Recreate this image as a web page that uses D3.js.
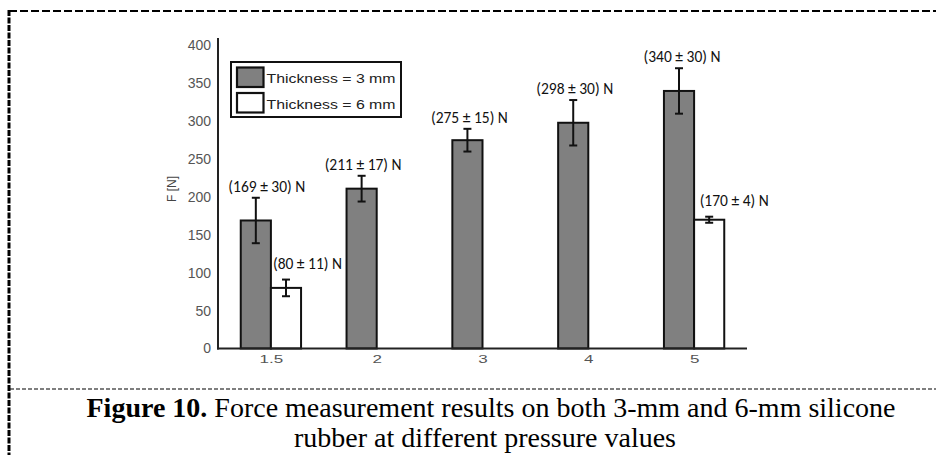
<!DOCTYPE html>
<html>
<head>
<meta charset="utf-8">
<script src="https://cdn.jsdelivr.net/npm/d3@7"></script>
<style>
  html, body { margin: 0; padding: 0; background: #fff; }
  svg { display: block; }
</style>
</head>
<body>
<svg id="chart" width="936" height="455"></svg>
<script>
// ---- data ----
const categories = ["1.5", "2", "3", "4", "5"];
const thick3 = [169, 211, 275, 298, 340];
const err3 = [30, 17, 15, 30, 30];
const thick6 = [80, null, null, null, 170];
const err6 = [11, null, null, null, 4];
const yTicks = [0, 50, 100, 150, 200, 250, 300, 350, 400];
const seriesNames = ["Thickness = 3 mm", "Thickness = 6 mm"];
const captionBold = "Figure 10.";
const captionLine1 = " Force measurement results on both 3-mm and 6-mm silicone";
const captionLine2 = "rubber at different pressure values";
// label nudges (layout only)
const labelNudge3 = [11, 1.5, 2, 1.5, 3];
const labelNudge6 = [21.5, 0, 0, 0, 25];

const svg = d3.select("#chart");

// ---- frame ----
svg.append("line").attr("x1", 9).attr("x2", 936).attr("y1", 11).attr("y2", 11)
  .attr("stroke", "#000").attr("stroke-width", 2).attr("stroke-dasharray", "8,3");
svg.append("line").attr("x1", 9).attr("x2", 9).attr("y1", 10).attr("y2", 455)
  .attr("stroke", "#000").attr("stroke-width", 3).attr("stroke-dasharray", "6,1.5");
svg.append("line").attr("x1", 10).attr("x2", 936).attr("y1", 389).attr("y2", 389)
  .attr("stroke", "#000").attr("stroke-width", 1.2).attr("stroke-dasharray", "4,2");

// ---- scales ----
const x = d3.scalePoint().domain(categories).range([218, 747]).padding(0.5);
const y = d3.scaleLinear().domain([0, 400]).range([348.5, 45.5]);
const bw = x.step() * 0.285;

const g = svg.append("g");

// axes
const yAxis = d3.axisLeft(y).tickValues(yTicks).tickSize(0).tickPadding(7);
const yg = g.append("g").attr("transform", "translate(218,0)").call(yAxis);
yg.select(".domain").remove();
yg.selectAll("text").attr("font-family", "Liberation Sans, Arial, sans-serif")
  .attr("font-size", 14).attr("fill", "#555");

const xAxis = d3.axisBottom(x).tickSize(0).tickPadding(0);
const xg = g.append("g").attr("transform", "translate(0,348.5)").call(xAxis);
xg.select(".domain").remove();
xg.selectAll("text")
  .attr("font-family", "Liberation Sans, Arial, sans-serif")
  .attr("font-size", 17).attr("fill", "#555")
  .attr("dy", 0)
  .attr("transform", function() { return "translate(0,14) scale(1,0.6)"; });

// bars 3 mm
g.selectAll("rect.b3").data(thick3).join("rect").attr("class", "b3")
  .attr("x", (d, i) => x(categories[i]) - bw)
  .attr("y", d => y(d))
  .attr("width", bw)
  .attr("height", d => y(0) - y(d))
  .attr("fill", "#808080").attr("stroke", "#111").attr("stroke-width", 2);

// bars 6 mm
const d6 = thick6.map((v, i) => ({v, e: err6[i], c: categories[i], i})).filter(d => d.v != null);
g.selectAll("rect.b6").data(d6).join("rect").attr("class", "b6")
  .attr("x", d => x(d.c))
  .attr("y", d => y(d.v))
  .attr("width", bw)
  .attr("height", d => y(0) - y(d.v))
  .attr("fill", "#fff").attr("stroke", "#111").attr("stroke-width", 2);

// axis lines
g.append("line").attr("x1", 218).attr("x2", 218).attr("y1", 38).attr("y2", 349.5)
  .attr("stroke", "#222").attr("stroke-width", 2);
g.append("line").attr("x1", 217).attr("x2", 747).attr("y1", 348.5).attr("y2", 348.5)
  .attr("stroke", "#222").attr("stroke-width", 2);

// error bars
const d3s = thick3.map((v, i) => ({v, e: err3[i], c: categories[i], i, cx: x(categories[i]) - bw / 2}));
const d6s = d6.map(d => ({...d, cx: x(d.c) + bw / 2}));
function errorBars(data, cls) {
  const eg = g.selectAll("g." + cls).data(data).join("g").attr("class", cls)
    .attr("stroke", "#111").attr("stroke-width", 2);
  eg.append("line").attr("x1", d => d.cx).attr("x2", d => d.cx)
    .attr("y1", d => y(d.v + d.e)).attr("y2", d => y(d.v - d.e));
  eg.append("line").attr("x1", d => d.cx - 4).attr("x2", d => d.cx + 4)
    .attr("y1", d => y(d.v + d.e)).attr("y2", d => y(d.v + d.e));
  eg.append("line").attr("x1", d => d.cx - 4).attr("x2", d => d.cx + 4)
    .attr("y1", d => y(d.v - d.e)).attr("y2", d => y(d.v - d.e));
}
errorBars(d3s, "e3");
errorBars(d6s, "e6");

// value labels
function valueLabels(data, cls, nudge, dy) {
  g.selectAll("text." + cls).data(data).join("text").attr("class", cls)
    .attr("x", d => d.cx + nudge[d.i])
    .attr("y", d => y(d.v + d.e) - dy)
    .attr("text-anchor", "middle")
    .attr("font-family", "Carlito, Lato, 'Open Sans', sans-serif")
    .attr("font-size", 15.5).attr("fill", "#111")
    .text(d => `(${d.v} ± ${d.e}) N`);
}
valueLabels(d3s, "l3", labelNudge3, 6);
valueLabels(d6s, "l6", labelNudge6, 11);

// y label
g.append("text").attr("transform", "translate(176,189) rotate(-90)")
  .attr("text-anchor", "middle")
  .attr("font-family", "Liberation Sans, Arial, sans-serif")
  .attr("font-size", 12).attr("fill", "#444").text("F [N]");

// legend
const lg = g.append("g");
lg.append("rect").attr("x", 231).attr("y", 62).attr("width", 170).attr("height", 55)
  .attr("fill", "#fff").attr("stroke", "#111").attr("stroke-width", 2);
const swFill = ["#808080", "#fff"];
seriesNames.forEach((name, i) => {
  lg.append("rect").attr("x", 237).attr("y", 67.5 + i * 25.5).attr("width", 26.5).attr("height", 19.5)
    .attr("fill", swFill[i]).attr("stroke", "#111").attr("stroke-width", 2.2);
  lg.append("text").attr("x", 266.5).attr("y", 82.5 + i * 26)
    .attr("font-family", "Liberation Sans, Arial, sans-serif")
    .attr("font-size", 13.5).attr("fill", "#222")
    .attr("textLength", 129).attr("lengthAdjust", "spacingAndGlyphs")
    .text(name);
});

// caption
const cap = svg.append("text").attr("x", 491).attr("y", 417).attr("text-anchor", "middle")
  .attr("font-family", "Liberation Serif, 'Times New Roman', serif").attr("font-size", 28).attr("fill", "#000");
cap.append("tspan").attr("font-weight", "bold").text(captionBold);
cap.append("tspan").text(captionLine1);
svg.append("text").attr("x", 485).attr("y", 447).attr("text-anchor", "middle")
  .attr("font-family", "Liberation Serif, 'Times New Roman', serif").attr("font-size", 28).attr("fill", "#000")
  .text(captionLine2);
</script>
</body>
</html>
